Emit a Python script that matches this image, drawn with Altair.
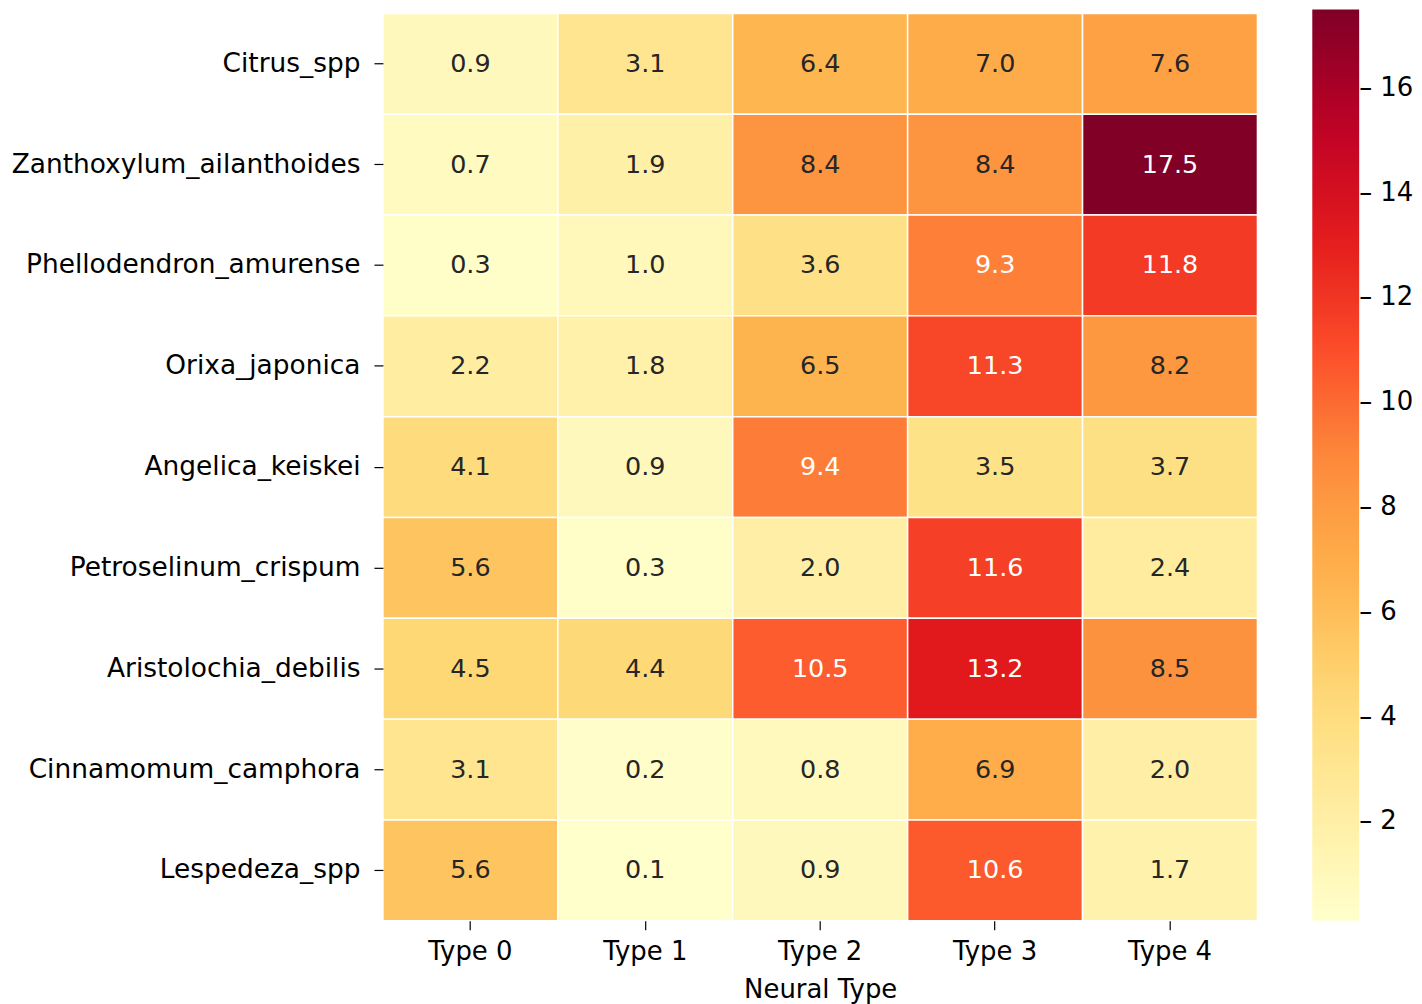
import altair as alt
import pandas as pd

species = ["Citrus_spp", "Zanthoxylum_ailanthoides", "Phellodendron_amurense",
           "Orixa_japonica", "Angelica_keiskei", "Petroselinum_crispum",
           "Aristolochia_debilis", "Cinnamomum_camphora", "Lespedeza_spp"]
types = ["Type 0", "Type 1", "Type 2", "Type 3", "Type 4"]
values = [
    [0.9, 3.1, 6.4, 7.0, 7.6],
    [0.7, 1.9, 8.4, 8.4, 17.5],
    [0.3, 1.0, 3.6, 9.3, 11.8],
    [2.2, 1.8, 6.5, 11.3, 8.2],
    [4.1, 0.9, 9.4, 3.5, 3.7],
    [5.6, 0.3, 2.0, 11.6, 2.4],
    [4.5, 4.4, 10.5, 13.2, 8.5],
    [3.1, 0.2, 0.8, 6.9, 2.0],
    [5.6, 0.1, 0.9, 10.6, 1.7],
]
cmap = ["#ffffcc", "#ffeda0", "#fed976", "#feb24c", "#fd8d3c",
        "#fc4e2a", "#e31a1c", "#bd0026", "#800026"]
vmin, vmax = 0.1, 17.5
legend_ticks = [2, 4, 6, 8, 10, 12, 14, 16]

rows = []
for s, vals in zip(species, values):
    for t, v in zip(types, vals):
        rows.append({"species": s, "type": t, "value": v, "label": f"{v:.1f}"})
df = pd.DataFrame(rows)

domain = [vmin + (vmax - vmin) * i / (len(cmap) - 1) for i in range(len(cmap))]
FONT = "DejaVu Sans"
FS = 26

x = alt.X("type:N", sort=types, title="Neural Type",
          axis=alt.Axis(labelAngle=0, labelFontSize=FS, titleFontSize=FS,
                        titleFontWeight="normal", labelColor="#000000",
                        titleColor="#000000", tickSize=9, tickColor="#000000",
                        tickWidth=1.2, domain=False, labelPadding=9, titlePadding=12,
                        labelLimit=400))
y = alt.Y("species:N", sort=species, title="",
          axis=alt.Axis(labelFontSize=26.5, labelColor="#000000", tickSize=9,
                        tickColor="#000000", tickWidth=1.2, domain=False,
                        labelPadding=14, labelLimit=600))

rect = alt.Chart(df).mark_rect(stroke="white", strokeWidth=1.5).encode(
    x=x, y=y,
    color=alt.Color("value:Q",
                    scale=alt.Scale(domain=domain, range=cmap, interpolate="rgb"),
                    legend=alt.Legend(title=None, gradientLength=914,
                                      gradientThickness=47, values=legend_ticks,
                                      labelFontSize=FS, labelColor="#000000",
                                      orient="none", legendX=932, legendY=-4,
                                      direction="vertical",
                                      labelExpr="'– ' + datum.label",
                                      labelOffset=0, gradientStrokeWidth=0))
)
text = alt.Chart(df).mark_text(fontSize=25.5, font=FONT).encode(
    x=alt.X("type:N", sort=types),
    y=alt.Y("species:N", sort=species),
    text="label:N",
    color=alt.condition(alt.datum.value > 9, alt.value("white"), alt.value("#262626")),
)

chart = (rect + text).properties(
    width=877, height=910,
    padding={"left": 2, "top": 0, "right": 0, "bottom": 0},
).configure(font=FONT).configure_view(stroke=None).configure_axis(grid=False)

chart.save("out.html", embed_options={"renderer": "svg", "actions": False})
